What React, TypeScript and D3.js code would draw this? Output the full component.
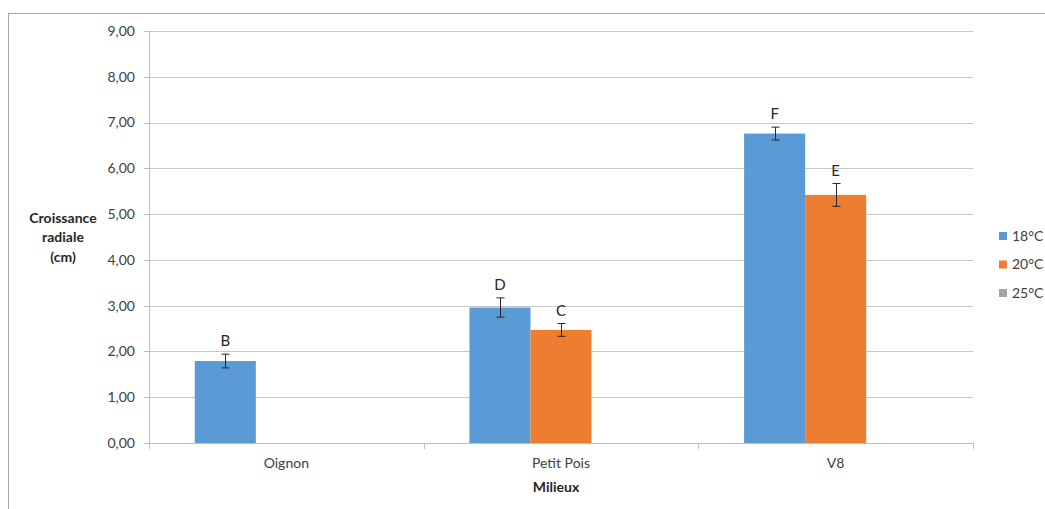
import React, { useEffect, useRef } from "react";
import * as d3 from "d3";

// Growth by medium and temperature
const categories = ["Oignon", "Petit Pois", "V8"];
const seriesNames = ["18°C", "20°C", "25°C"];
const seriesColors = ["#5B9BD5", "#ED7D31", "#A5A5A5"];
const values18 = [1.79, 2.96, 6.76];
const values20 = [null, 2.47, 5.42];
const values25 = [null, null, null];
const errors18 = [0.15, 0.21, 0.14];
const errors20 = [null, 0.14, 0.25];
const errors25 = [null, null, null];
const letters18 = ["B", "D", "F"];
const letters20 = ["", "C", "E"];
const letters25 = ["", "", ""];
const yTicks = [0, 1, 2, 3, 4, 5, 6, 7, 8, 9];

const W = 1045;
const H = 509;
const FONT = "Lato, 'Open Sans', sans-serif";

export default function App() {
  const ref = useRef<SVGSVGElement>(null);

  useEffect(() => {
    const svg = d3.select(ref.current);
    svg.selectAll("*").remove();

    const left = 149, right = 973, top = 31, bottom = 443;

    const x = d3.scaleBand<string>().domain(categories).range([left, right]).paddingInner(0).paddingOuter(0);
    const inner = d3.scaleBand<string>().domain(seriesNames).range([0, x.bandwidth()]).paddingInner(0).paddingOuter(0.75);
    const y = d3.scaleLinear().domain([0, 9]).range([bottom, top]);

    // Chart border
    svg.append("rect").attr("x", 8.5).attr("y", 13.5).attr("width", W).attr("height", H)
      .attr("fill", "white").attr("stroke", "#A6A6A6");

    // Gridlines
    svg.append("g").selectAll("line").data(yTicks.filter(t => t > 0)).join("line")
      .attr("x1", left).attr("x2", right)
      .attr("y1", d => Math.round(y(d)) + 0.5).attr("y2", d => Math.round(y(d)) + 0.5)
      .attr("stroke", "#C8C8C8").attr("stroke-width", 1);

    // Y axis
    svg.append("line").attr("x1", left + 0.5).attr("x2", left + 0.5).attr("y1", top).attr("y2", bottom)
      .attr("stroke", "#BFBFBF");
    svg.append("g").selectAll("line").data(yTicks).join("line")
      .attr("x1", left - 5).attr("x2", left)
      .attr("y1", d => Math.round(y(d)) + 0.5).attr("y2", d => Math.round(y(d)) + 0.5)
      .attr("stroke", "#BFBFBF");
    svg.append("g").selectAll("text").data(yTicks).join("text")
      .attr("x", 135).attr("y", d => y(d)).attr("dy", "0.35em")
      .attr("text-anchor", "end").attr("font-family", FONT).attr("font-size", 14).attr("fill", "#404040")
      .text(d => d.toFixed(2).replace(".", ","));

    const seriesVals = [values18, values20, values25];
    const seriesErr = [errors18, errors20, errors25];
    const seriesLetters = [letters18, letters20, letters25];

    seriesNames.forEach((s, si) => {
      const g = svg.append("g");
      categories.forEach((c, ci) => {
        const v = seriesVals[si][ci];
        if (v == null) return;
        const bx = (x(c) as number) + (inner(s) as number);
        const bw = inner.bandwidth();
        g.append("rect").attr("x", bx).attr("y", y(v)).attr("width", bw).attr("height", y(0) - y(v))
          .attr("fill", seriesColors[si]);
        const e = seriesErr[si][ci];
        const cx = Math.round(bx + bw / 2) + 0.5;
        let labelY = y(v) - 13;
        if (e != null) {
          const y1 = y(v + e), y2 = y(v - e);
          g.append("line").attr("x1", cx).attr("x2", cx).attr("y1", y1).attr("y2", y2).attr("stroke", "#262626");
          g.append("line").attr("x1", cx - 4).attr("x2", cx + 4).attr("y1", y1).attr("y2", y1).attr("stroke", "#262626");
          g.append("line").attr("x1", cx - 4).attr("x2", cx + 4).attr("y1", y2).attr("y2", y2).attr("stroke", "#262626");
          labelY = y1 - 13;
        }
        const lab = seriesLetters[si][ci];
        if (lab) {
          g.append("text").attr("x", bx + bw / 2).attr("y", labelY).attr("dy", "0.35em")
            .attr("text-anchor", "middle").attr("font-family", FONT).attr("font-size", 15).attr("fill", "#262626")
            .text(lab);
        }
      });
    });

    // X axis
    svg.append("line").attr("x1", left).attr("x2", right).attr("y1", bottom + 0.5).attr("y2", bottom + 0.5)
      .attr("stroke", "#BFBFBF");
    const bounds = [...categories.map(c => x(c) as number), right];
    svg.append("g").selectAll("line").data(bounds).join("line")
      .attr("x1", d => Math.round(d) + 0.5).attr("x2", d => Math.round(d) + 0.5)
      .attr("y1", bottom).attr("y2", bottom + 6).attr("stroke", "#BFBFBF");
    svg.append("g").selectAll("text").data(categories).join("text")
      .attr("x", d => (x(d) as number) + x.bandwidth() / 2).attr("y", 463).attr("dy", "0.35em")
      .attr("text-anchor", "middle").attr("font-family", FONT).attr("font-size", 14).attr("fill", "#404040")
      .text(d => d);

    // Axis titles
    svg.append("text").attr("x", 556).attr("y", 487).attr("dy", "0.35em").attr("text-anchor", "middle")
      .attr("font-family", FONT).attr("font-size", 14).attr("font-weight", "bold").attr("fill", "#262626")
      .text("Milieux");
    const yt = svg.append("text").attr("text-anchor", "middle")
      .attr("font-family", FONT).attr("font-size", 14).attr("font-weight", "bold").attr("fill", "#262626");
    ["Croissance", "radiale", "(cm)"].forEach((t, i) => {
      yt.append("tspan").attr("x", 63).attr("y", 218 + i * 19.5).attr("dy", "0.35em").text(t);
    });

    // Legend
    const lg = svg.append("g");
    seriesNames.forEach((s, i) => {
      const ly = 236 + i * 28.5;
      lg.append("rect").attr("x", 999).attr("y", ly - 4).attr("width", 8).attr("height", 8).attr("fill", seriesColors[i]);
      lg.append("text").attr("x", 1012).attr("y", ly).attr("dy", "0.35em")
        .attr("font-family", FONT).attr("font-size", 14).attr("fill", "#404040").text(s);
    });
  }, []);

  return (
    <svg ref={ref} width={W} height={H}
      style={{ position: "absolute", left: 0, top: 0, display: "block", background: "white" }} />
  );
}
